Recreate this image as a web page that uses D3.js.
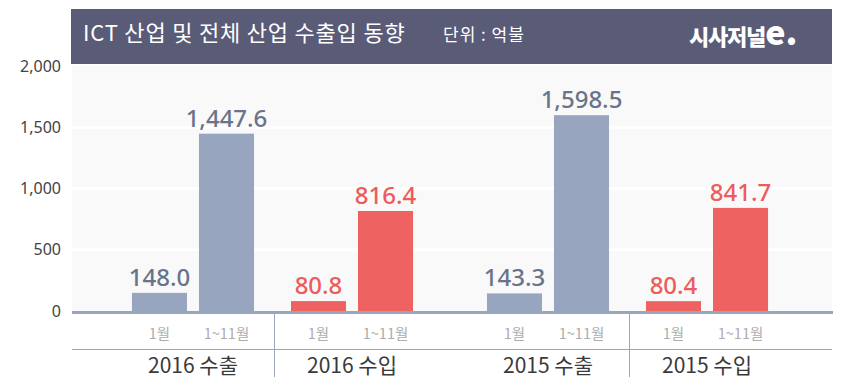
<!DOCTYPE html>
<html>
<head>
<meta charset="utf-8">
<script src="https://cdn.jsdelivr.net/npm/d3@7"></script>
<style>
  html, body { margin: 0; padding: 0; background: #ffffff; }
  svg { display: block; font-family: "Noto Sans CJK KR", "Noto Sans", sans-serif; }
</style>
</head>
<body>
<svg id="chart" width="860" height="387"></svg>
<script>
// ---- data ----
const years = ["2016", "2015"];
const flows = ["수출", "수입"];
const periods = ["1월", "1~11월"];
// order: 2016 수출, 2016 수입, 2015 수출, 2015 수입
const categories = ["2016 수출", "2016 수입", "2015 수출", "2015 수입"];
const valuesJan = [148.0, 80.8, 143.3, 80.4];
const valuesJanNov = [1447.6, 816.4, 1598.5, 841.7];
const yTicks = [0, 500, 1000, 1500, 2000];
const title = "ICT 산업 및 전체 산업 수출입 동향";
const unitText = "단위 : 억불";

// ---- styles ----
const barColor = { "수출": "#97a5be", "수입": "#ef6262" };
const labelColor = { "수출": "#697489", "수입": "#ee5b5b" };

const svg = d3.select("#chart");
const plotL = 72, plotR = 832, plotT = 66;

const yearX = d3.scaleBand().domain(years).range([102.5, 797.5]).paddingInner(0.0423);
const flowX = d3.scaleBand().domain(flows).range([0, yearX.bandwidth()]).padding(0.138);
const periodX = d3.scaleBand().domain(periods).range([0, flowX.bandwidth()])
  .paddingInner(0.179).paddingOuter(0.112);
const y = d3.scaleLinear().domain([0, 2000]).range([311, 66]);

// header
svg.append("rect").attr("x", 71).attr("y", 9).attr("width", 761).attr("height", 55)
  .attr("fill", "#5a5b77");
svg.append("text").attr("x", 83).attr("y", 41).attr("fill", "#ffffff")
  .attr("font-size", 22).attr("letter-spacing", 0.8).text(title);
svg.append("text").attr("x", 443).attr("y", 41).attr("fill", "#ffffff")
  .attr("font-size", 17).attr("letter-spacing", 1).text(unitText);
const logo = svg.append("text").attr("x", 689).attr("y", 45).attr("fill", "#ffffff")
  .attr("font-weight", 900);
logo.append("tspan").attr("font-size", 22).attr("letter-spacing", -1.2).text("시사저널");
logo.append("tspan").attr("font-size", 34).attr("dx", 0).text("e.");

// plot background
svg.append("rect").attr("x", plotL).attr("y", plotT).attr("width", plotR - plotL)
  .attr("height", y(0) - plotT).attr("fill", "#f9f9f9");
svg.append("g").selectAll("line").data(yTicks.filter(d => d > 0 && d < 2000)).join("line")
  .attr("x1", plotL).attr("x2", plotR).attr("y1", d => y(d)).attr("y2", d => y(d))
  .attr("stroke", "#ffffff").attr("stroke-width", 3);

// y axis
const yAxis = svg.append("g").attr("transform", "translate(64,0)")
  .call(d3.axisLeft(y).tickValues(yTicks).tickFormat(d3.format(",")).tickSize(0).tickPadding(3));
yAxis.select(".domain").remove();
yAxis.selectAll("text").attr("font-size", 16).attr("fill", "#444444")
  .attr("font-family", "\"Noto Sans\", \"Noto Sans CJK KR\", sans-serif");

// bars
const rows = [];
categories.forEach((c, i) => {
  const [yr, fl] = c.split(" ");
  rows.push({ cat: c, year: yr, flow: fl, period: periods[0], value: valuesJan[i] });
  rows.push({ cat: c, year: yr, flow: fl, period: periods[1], value: valuesJanNov[i] });
});
const bx = d => yearX(d.year) + flowX(d.flow) + periodX(d.period);

svg.append("g").selectAll("rect").data(rows).join("rect")
  .attr("x", bx).attr("width", periodX.bandwidth())
  .attr("y", d => y(d.value)).attr("height", d => y(0) - y(d.value))
  .attr("fill", d => barColor[d.flow]);

svg.append("g").selectAll("text").data(rows).join("text")
  .attr("x", d => bx(d) + periodX.bandwidth() / 2).attr("y", d => y(d.value) - 7)
  .attr("text-anchor", "middle").attr("font-size", 24).attr("font-weight", 500)
  .attr("font-family", "\"Noto Sans\", sans-serif")
  .attr("fill", d => labelColor[d.flow]).text(d => d3.format(",.1f")(d.value));

// baseline
svg.append("line").attr("x1", plotL).attr("x2", plotR + 1).attr("y1", y(0) + 1.5).attr("y2", y(0) + 1.5)
  .attr("stroke", "#97a5be").attr("stroke-width", 3);

// period labels
svg.append("g").selectAll("text").data(rows).join("text")
  .attr("x", d => bx(d) + periodX.bandwidth() / 2).attr("y", 338.5)
  .attr("text-anchor", "middle").attr("font-size", 14.5).attr("fill", "#adadad")
  .text(d => d.period);

// separator
svg.append("line").attr("x1", plotL).attr("x2", plotR).attr("y1", 349.5).attr("y2", 349.5)
  .attr("stroke", "#9ba6be").attr("stroke-width", 1.2);
svg.append("g").selectAll("line").data(years).join("line")
  .attr("x1", d => yearX(d) + yearX.bandwidth() / 2 + 2).attr("x2", d => yearX(d) + yearX.bandwidth() / 2 + 2)
  .attr("y1", y(0) + 3).attr("y2", 377)
  .attr("stroke", "#9ba6be").attr("stroke-width", 1);

// group labels
svg.append("g").selectAll("text").data(categories).join("text")
  .attr("x", c => { const [yr, fl] = c.split(" "); return yearX(yr) + flowX(fl) + flowX.bandwidth() / 2; })
  .attr("y", 373).attr("text-anchor", "middle").attr("font-size", 21).attr("fill", "#3a3a3a")
  .text(c => c);
</script>
</body>
</html>
